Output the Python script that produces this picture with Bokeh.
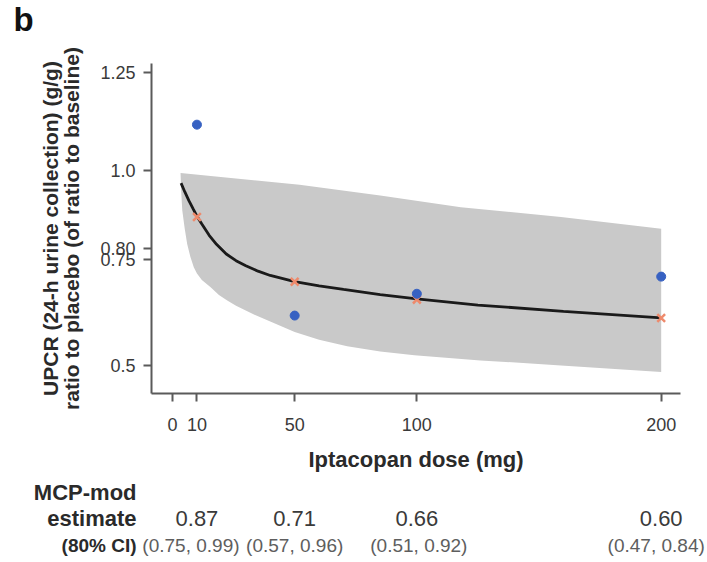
from bokeh.plotting import figure
from bokeh.layouts import column
from bokeh.models import Range1d, FixedTicker, ColumnDataSource
from bokeh.core.properties import value
from bokeh.embed import file_html
from bokeh.resources import INLINE

# ---------------- data ----------------
obs_dose = [10, 50, 100, 200]
obs_ratio = [1.117, 0.627, 0.683, 0.727]

est_dose = [10, 50, 100, 200]
est_ratio = [0.880, 0.714, 0.668, 0.621]

curve_dose = [3.5, 5, 6.7, 8.5, 10, 12, 15, 18, 22, 26, 30, 35, 40, 50, 60, 70, 85, 100, 125, 160, 200]
curve_ratio = [0.967, 0.945, 0.922, 0.900, 0.882, 0.862, 0.833, 0.810, 0.785, 0.768, 0.755, 0.741,
               0.730, 0.714, 0.703, 0.694, 0.681, 0.670, 0.654, 0.638, 0.621]

band_up_dose = [3.3, 52, 85, 118, 159, 200]
band_up = [0.993, 0.963, 0.935, 0.905, 0.880, 0.850]

band_lo_dose = [3.3, 3.6, 4.0, 5.0, 6.0, 7.3, 8.7, 10, 12, 15.6, 19, 22.4, 26, 30.6, 35, 40,
                50, 60, 71.5, 85, 99, 126, 159, 200]
band_lo = [0.990, 0.940, 0.897, 0.850, 0.811, 0.778, 0.751, 0.735, 0.718, 0.700, 0.680, 0.666,
           0.652, 0.638, 0.625, 0.612, 0.585, 0.565, 0.548, 0.535, 0.525, 0.512, 0.499, 0.482]

x_ticks = [0, 10, 50, 100, 200]
y_ticks = [0.5, 0.77, 0.8, 1.0, 1.25]
y_tick_labels = ["0.5", "0.75", "0.80", "1.0", "1.25"]

panel_letter = "b"
table_dose = [10, 50, 100, 200]
table_est = ["0.87", "0.71", "0.66", "0.60"]
table_ci = ["(0.75, 0.99)", "(0.57, 0.96)", "(0.51, 0.92)", "(0.47, 0.84)"]
row_labels = ["MCP-mod", "estimate", "(80% CI)"]

# ---------------- layout constants ----------------
W = 706
H_HEAD = 38
LEFT, RIGHT, TOP, BOTTOM = 151, 26, 63 - H_HEAD, 84
FRAME_H = 330
X0, X1 = -8.6, 207.9
Y0, Y1 = 0.427, 1.274
FONT = "Liberation Sans"
ux = (X1 - X0) / (W - LEFT - RIGHT)
full_x = (X0 - LEFT * ux, X1 + RIGHT * ux)

# ---------------- header with the panel letter ----------------
h = figure(width=W, height=H_HEAD, output_backend="svg", toolbar_location=None,
           x_range=Range1d(*full_x), y_range=Range1d(0, 1),
           x_axis_type=None, y_axis_type=None,
           min_border_left=0, min_border_right=0, min_border_top=0, min_border_bottom=0)
h.frame_align = False
h.outline_line_color = None
h.grid.visible = False
h.text(x=[full_x[0]], y=[1], text=[panel_letter], text_align="left", text_baseline="top",
       x_offset=13, y_offset=0, text_font=value(FONT), text_font_size="33px",
       text_font_style="bold", text_color="#111111")

# ---------------- main plot ----------------
p = figure(width=W, height=TOP + FRAME_H + BOTTOM, output_backend="svg", toolbar_location=None,
           x_range=Range1d(X0, X1), y_range=Range1d(Y0, Y1), title=None,
           min_border_left=LEFT, min_border_right=RIGHT, min_border_top=TOP, min_border_bottom=BOTTOM)
p.outline_line_color = None
p.grid.visible = False
p.background_fill_color = "white"
p.border_fill_color = "white"

# confidence band
band_x = band_up_dose + band_lo_dose[::-1]
band_y = band_up + band_lo[::-1]
p.patch(band_x, band_y, fill_color="#C9C9C9", line_color=None)

# model curve
p.line(curve_dose, curve_ratio, line_color="#1a1a1a", line_width=2.8)

# estimates and observed
p.scatter(est_dose, est_ratio, marker="x", size=11, line_color="#EE8A6C", line_width=2.5)
p.scatter(obs_dose, obs_ratio, marker="circle", size=9, fill_color="#3761C2", line_color="#3761C2")

# axes
for ax in (p.xaxis[0], p.yaxis[0]):
    ax.axis_line_color = "#5a5a5a"
    ax.axis_line_width = 2
    ax.major_tick_line_color = "#5a5a5a"
    ax.major_tick_line_width = 2
    ax.major_tick_in = 0
    ax.major_tick_out = 8
    ax.minor_tick_line_color = None
    ax.major_label_text_font = FONT
    ax.major_label_text_font_size = "18px"
    ax.major_label_text_color = "#3a3a3a"
    ax.axis_label_text_font = FONT
    ax.axis_label_text_font_style = "bold"
    ax.axis_label_text_color = "#2a2a2a"

p.xaxis.ticker = FixedTicker(ticks=x_ticks)
p.xaxis.major_label_standoff = 16
p.xaxis.axis_label = "Iptacopan dose (mg)"
p.xaxis.axis_label_text_font_size = "22px"
p.xaxis.axis_label_standoff = 13

p.yaxis.ticker = FixedTicker(ticks=y_ticks)
p.yaxis.major_label_standoff = 8
p.yaxis.major_label_overrides = {t: l for t, l in zip(y_ticks, y_tick_labels)}
p.yaxis.axis_label = "UPCR (24-h urine collection) (g/g)\nratio to placebo (of ratio to baseline)"
p.yaxis.axis_label_text_font_size = "21px"
p.yaxis.axis_label_text_line_height = 0.95
p.yaxis.axis_label_standoff = 14

# ---------------- table below ----------------
T_H = 560 - H_HEAD - (TOP + FRAME_H + BOTTOM)
t = figure(width=W, height=T_H, output_backend="svg", toolbar_location=None,
           x_range=Range1d(*full_x), y_range=Range1d(2.582, -0.570),
           x_axis_type=None, y_axis_type=None,
           min_border_left=0, min_border_right=0, min_border_top=0, min_border_bottom=0)
t.frame_align = False
t.outline_line_color = None
t.grid.visible = False

# row labels (right-aligned just left of dose 0)
t.text(x=[0, 0], y=[0, 1], text=row_labels[:2], text_align="right", text_baseline="middle",
       x_offset=-36, text_font=value(FONT), text_font_size="22px", text_font_style="bold",
       text_color="#2a2a2a")
t.text(x=[0], y=[2], text=row_labels[2:], text_align="right", text_baseline="middle",
       x_offset=-36, text_font=value(FONT), text_font_size="19px", text_font_style="bold",
       text_color="#2a2a2a")

est_src = ColumnDataSource(dict(x=table_dose, y=[1] * len(table_dose), text=table_est))
ci_src = ColumnDataSource(dict(x=table_dose, y=[2] * len(table_dose), text=table_ci,
                               off=[-6, 0, 2, -5]))
t.text(x="x", y="y", text="text", source=est_src, text_align="center", text_baseline="middle",
       text_font=value(FONT), text_font_size="22px", text_color="#3a3a3a")
t.text(x="x", y="y", text="text", source=ci_src, text_align="center", text_baseline="middle",
       x_offset="off", text_font=value(FONT), text_font_size="19px", text_color="#5e5e5e")

layout = column(h, p, t, spacing=0)
open("out.html", "w").write(file_html(layout, INLINE))
